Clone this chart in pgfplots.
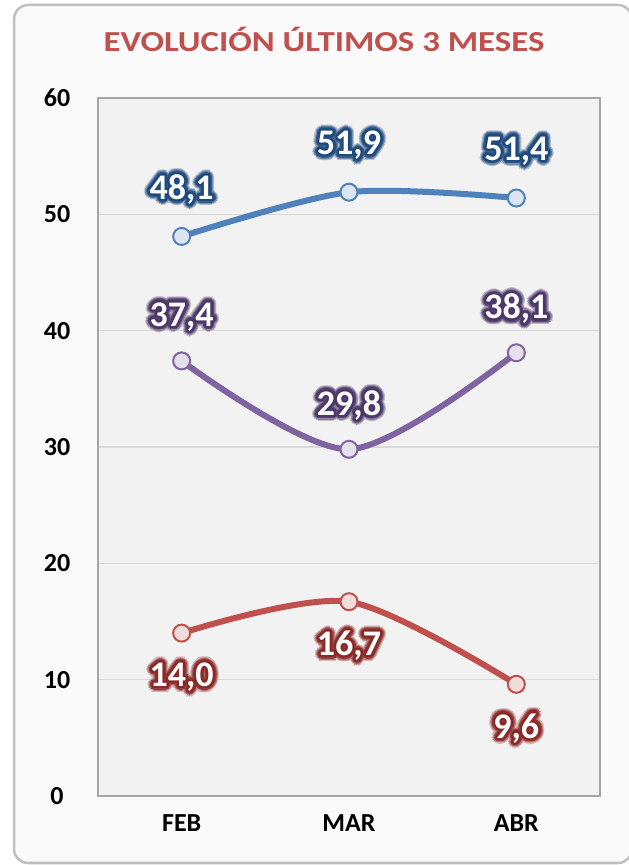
\documentclass[border=0pt]{standalone}
\usepackage{pgfplots}
\usepackage{pgfplotstable}
\pgfplotsset{compat=1.18}
\usepackage{fontspec}
\setmainfont{Carlito}

\definecolor{ttl}{HTML}{C0504D}
\definecolor{sblue}{HTML}{4F81BD}
\definecolor{spurple}{HTML}{8064A2}
\definecolor{sred}{HTML}{C0504D}
\definecolor{fblue}{HTML}{DCE6F2}
\definecolor{fpurple}{HTML}{E6E0EC}
\definecolor{fred}{HTML}{F2DCDB}
\definecolor{dblue}{HTML}{1F4A7D}
\definecolor{dpurple}{HTML}{4B3768}
\definecolor{dred}{HTML}{8A2A28}
\definecolor{plotbg}{HTML}{F2F2F2}
\definecolor{chartbg}{HTML}{FAFAFA}
\definecolor{gridgray}{HTML}{D9D9D9}
\definecolor{axisgray}{HTML}{A6A6A6}
\definecolor{framegray}{HTML}{BFBFBF}

\pgfplotstableread{
x y
0 48.1
1 51.9
2 51.4
}\blueT
\pgfplotstableread{
x y
0 37.4
1 29.8
2 38.1
}\purpleT
\pgfplotstableread{
x y
0 14.0
1 16.7
2 9.6
}\redT

\pgfplotsset{
  series/.style 2 args={#1, line width=6bp, smooth, mark=*, mark size=8.5bp,
    mark options={fill=#2, draw=#1, line width=2bp}},
  lbl/.style n args={3}{draw=none, mark=none, forget plot,
    nodes near coords={\pgfmathprintnumber[fixed,fixed zerofill,precision=1,use comma]{\pgfplotspointmeta}},
    every node near coord/.append style={text=#1, anchor=center,
      font=\fontsize{36bp}{36bp}\selectfont\bfseries, xshift=#2, yshift=#3}},
}

% halo round the value labels: copies of the labels in a dark colour, then white on top
\newcommand\glowring[4]{% table, colour, yshift (bp), radius (bp)
  \foreach \gu/\gv in {1/0,0.924/0.383,0.707/0.707,0.383/0.924,0/1,-0.383/0.924,
      -0.707/0.707,-0.924/0.383,-1/0,-0.924/-0.383,-0.707/-0.707,-0.383/-0.924,
      0/-1,0.383/-0.924,0.707/-0.707,0.924/-0.383}{%
    \edef\tmp{\noexpand\addplot[lbl={#2}{(\gu)*#4bp}{#3bp+(\gv)*#4bp}] table {\noexpand#1};}\tmp
  }%
}
\newcommand\glowlabels[3]{% table, dark colour, yshift
  \glowring{#1}{#2!30!plotbg}{#3}{6.0}
  \glowring{#1}{#2!60!plotbg}{#3}{4.8}
  \glowring{#1}{#2!90!plotbg}{#3}{3.6}
  \glowring{#1}{#2}{#3}{2.4}
  \addplot[lbl={white}{0bp}{#3bp}] table {#1};
}

\begin{document}
\begin{tikzpicture}[x=1bp,y=1bp]
\useasboundingbox (0,0) rectangle (629,865);
\draw[rounded corners=14bp, line width=2.5bp, draw=framegray, fill=chartbg] (14,2) rectangle (632,860);
\node[text=ttl, font=\fontsize{29bp}{29bp}\selectfont\bfseries] at (324,826)
  {\scalebox{1.2}[1]{EVOLUCIÓN ÚLTIMOS 3 MESES}};

\begin{axis}[
  at={(98bp,69bp)}, anchor=south west,
  scale only axis, width=502bp, height=698bp,
  xmin=-0.5, xmax=2.5, ymin=0, ymax=60,
  xtick={0,1,2}, xticklabels={FEB,MAR,ABR},
  ytick={0,10,...,60},
  ymajorgrids, grid style={gridgray, line width=1.2bp},
  axis background/.style={fill=plotbg},
  axis line style={axisgray, line width=1.5bp},
  tick style={draw=none},
  /pgf/number format/assume math mode=true,
  ticklabel style={font=\fontsize{26bp}{26bp}\selectfont\bfseries},
  yticklabel style={anchor=center, xshift=-41bp},
  xticklabel style={anchor=center, yshift=-27bp},
  clip=false,
]
\addplot[series={sblue}{fblue}] table {\blueT};
\addplot[series={spurple}{fpurple}] table {\purpleT};
\addplot[series={sred}{fred}] table {\redT};

\glowlabels{\blueT}{dblue}{47}
\glowlabels{\purpleT}{dpurple}{44}
\glowlabels{\redT}{dred}{-44}
\end{axis}
\end{tikzpicture}
\end{document}
